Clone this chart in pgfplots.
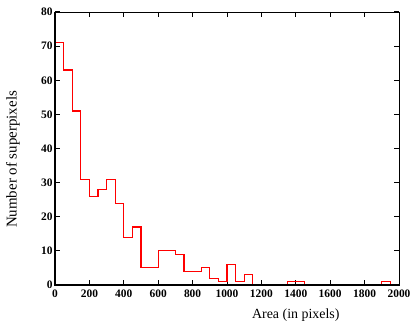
\documentclass[border=0pt]{standalone}
\usepackage{fontspec}
\setmainfont{Liberation Serif}
\usepackage{pgfplots}
\pgfplotsset{compat=1.18}
\begin{document}
\begin{tikzpicture}
\begin{axis}[
  name=ax,
  at={(0,0)}, anchor=south west,
  scale only axis,
  width=344bp, height=273bp,
  xmin=0, xmax=2000, ymin=0, ymax=80,
  xtick={0,200,...,2000},
  ytick={0,10,...,80},
  tick align=inside,
  major tick length=5bp,
  axis line style={line width=0.8bp},
  every tick/.style={black, line width=1bp},
  /pgf/number format/assume math mode=true,
  /pgf/number format/1000 sep={},
  tick label style={font=\bfseries\fontsize{11.5}{11.5}\selectfont},
  yticklabel style={xshift=1bp},
  xticklabel style={yshift=-1bp},
  ylabel={Number of superpixels},
  ylabel style={font=\fontsize{15}{15}\selectfont, at={(axis description cs:-0.122,0.46)}, anchor=center},
  xlabel={Area (in pixels)},
  xlabel style={font=\fontsize{14}{14}\selectfont, at={(axis description cs:0.70,0)}, anchor=north, inner sep=0pt, yshift=-24bp},
  clip=false,
]
\addplot[red, line width=1.1bp, const plot mark left] coordinates {
(0,71)(50,63)(100,51)(150,31)(200,26)(250,28)(300,31)(350,24)(400,14)(450,17)
(500,5)(550,5)(600,10)(650,10)(700,9)(750,4)(800,4)(850,5)(900,2)(950,1)
(1000,6)(1050,1)(1100,3)(1150,0)(1200,0)(1250,0)(1300,0)(1350,1)(1400,1)(1450,0)
(1500,0)(1550,0)(1600,0)(1650,0)(1700,0)(1750,0)(1800,0)(1850,0)(1900,1)(1950,0)
};
\draw[line width=2bp, black] (rel axis cs:0,1) -- (rel axis cs:0,0) -- (rel axis cs:1,0);
\end{axis}
\pgfresetboundingbox
\useasboundingbox (-55bp,-39bp) rectangle (364bp,285bp);
\end{tikzpicture}
\end{document}
